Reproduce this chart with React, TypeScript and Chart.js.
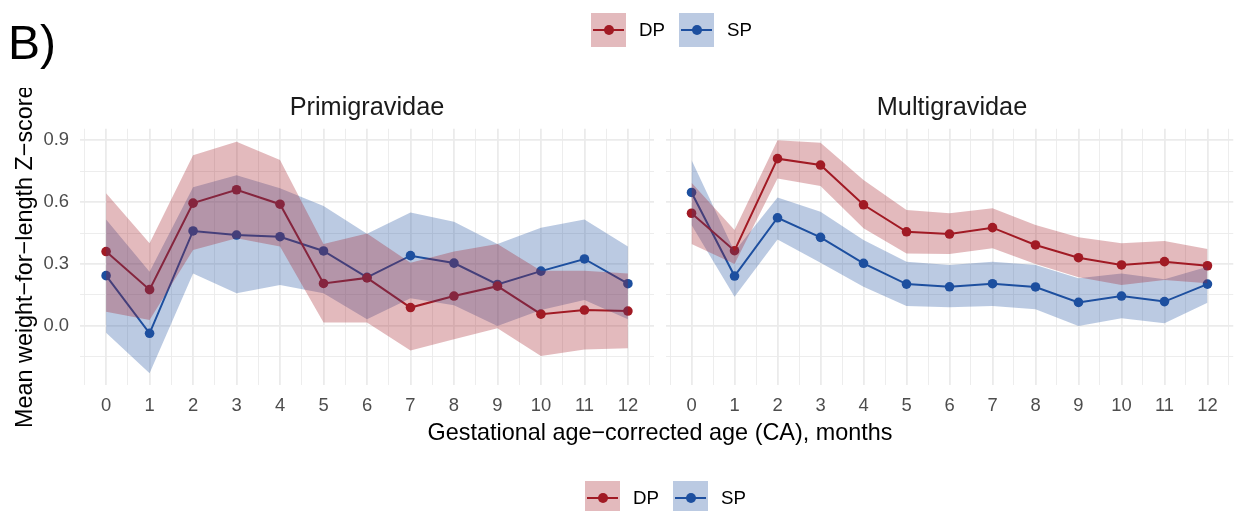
import React, { useEffect, useRef } from 'react';
import { Chart, registerables } from 'chart.js';
Chart.register(...registerables);

// ---- Data ----
const months = [0, 1, 2, 3, 4, 5, 6, 7, 8, 9, 10, 11, 12];

// Primigravidae
const primiDP = [0.36, 0.175, 0.595, 0.66, 0.59, 0.205, 0.232, 0.088, 0.144, 0.192, 0.056, 0.076, 0.071];
const primiDPLower = [0.068, 0.028, 0.367, 0.424, 0.384, 0.016, 0.016, -0.121, -0.066, -0.013, -0.147, -0.115, -0.11];
const primiDPUpper = [0.643, 0.4, 0.827, 0.893, 0.804, 0.397, 0.448, 0.306, 0.36, 0.397, 0.267, 0.267, 0.254];
const primiSP = [0.243, -0.037, 0.46, 0.44, 0.432, 0.363, 0.235, 0.34, 0.304, 0.2, 0.265, 0.324, 0.204];
const primiSPLower = [-0.034, -0.231, 0.254, 0.157, 0.198, 0.157, 0.031, 0.133, 0.099, -0.001, 0.076, 0.125, 0.031];
const primiSPUpper = [0.516, 0.262, 0.672, 0.731, 0.667, 0.581, 0.446, 0.549, 0.505, 0.397, 0.476, 0.516, 0.384];

// Multigravidae
const multiDP = [0.546, 0.364, 0.811, 0.78, 0.587, 0.456, 0.445, 0.476, 0.392, 0.33, 0.295, 0.311, 0.291];
const multiDPLower = [0.397, 0.3, 0.715, 0.678, 0.473, 0.351, 0.348, 0.376, 0.3, 0.235, 0.198, 0.222, 0.206];
const multiDPUpper = [0.694, 0.465, 0.901, 0.888, 0.707, 0.562, 0.546, 0.57, 0.489, 0.429, 0.4, 0.411, 0.372];
const multiSP = [0.647, 0.241, 0.524, 0.429, 0.303, 0.202, 0.189, 0.204, 0.188, 0.113, 0.144, 0.117, 0.202];
const multiSPLower = [0.489, 0.141, 0.419, 0.306, 0.189, 0.096, 0.089, 0.096, 0.08, -0.001, 0.036, 0.012, 0.112];
const multiSPUpper = [0.804, 0.36, 0.623, 0.553, 0.416, 0.311, 0.295, 0.311, 0.295, 0.23, 0.254, 0.225, 0.286];

// Axis ticks / grid
const xGridValues = [-0.5, 0, 0.5, 1, 1.5, 2, 2.5, 3, 3.5, 4, 4.5, 5, 5.5, 6, 6.5, 7, 7.5, 8, 8.5, 9, 9.5, 10, 10.5, 11, 11.5, 12, 12.5];
const yGridValues = [-0.15, 0, 0.15, 0.3, 0.45, 0.6, 0.75, 0.9];
const yTickLabels = ['0.0', '0.3', '0.6', '0.9'];
const xMin = -0.6, xMax = 12.6, yMin = -0.286, yMax = 0.956;

const seriesNames = ['DP', 'SP'];
const DP_COLOR = '#A11A24';
const SP_COLOR = '#1D4F9F';
const DP_FILL = 'rgba(161,26,36,0.3)';
const SP_FILL = 'rgba(29,79,159,0.3)';
const GRID = '#ebebeb';
const FONT = '"Liberation Sans", Arial, Helvetica, sans-serif';

const isInt = (v: number) => Math.abs(v - Math.round(v)) < 1e-6;
const isYMajor = (v: number) => Math.abs(v / 0.3 - Math.round(v / 0.3)) < 1e-6;

function pts(ys: number[]) {
  return months.map((m, i) => ({ x: m, y: ys[i] }));
}

function buildConfig(
  dp: number[], dpL: number[], dpU: number[],
  sp: number[], spL: number[], spU: number[],
  showY: boolean, padRight: number
): any {
  const band = (data: number[], fill: any, color: string) => ({
    type: 'line', data: pts(data), borderWidth: 0, pointRadius: 0, borderColor: 'transparent',
    backgroundColor: color, fill, order: 0, tension: 0,
  });
  const line = (data: number[], color: string, label: string) => ({
    type: 'line', label, data: pts(data), borderColor: color, backgroundColor: color,
    borderWidth: 2, pointRadius: 4.8, pointHoverRadius: 4.8, pointBorderWidth: 0,
    pointBackgroundColor: color, fill: false, order: 1, tension: 0,
  });
  return {
    type: 'line',
    data: {
      datasets: [
        band(dpU, '+1', DP_FILL),
        band(dpL, false, DP_FILL),
        band(spU, '+1', SP_FILL),
        band(spL, false, SP_FILL),
        line(dp, DP_COLOR, seriesNames[0]),
        line(sp, SP_COLOR, seriesNames[1]),
      ],
    },
    options: {
      responsive: false,
      animation: false,
      events: [],
      layout: { padding: { left: 0, right: padRight, top: 128.8, bottom: 511 - 384.6 - 40 } },
      plugins: { legend: { display: false }, tooltip: { enabled: false }, title: { display: false } },
      scales: {
        x: {
          type: 'linear', min: xMin, max: xMax,
          afterBuildTicks: (scale: any) => { scale.ticks = xGridValues.map((v) => ({ value: v })); },
          afterFit: (scale: any) => { scale.height = 40; },
          border: { display: false },
          grid: {
            color: GRID, drawTicks: false,
            lineWidth: (ctx: any) => (ctx.tick && isInt(ctx.tick.value) ? 1.8 : 0.9),
          },
          ticks: {
            autoSkip: false, maxRotation: 0, padding: 10, color: '#4d4d4d',
            font: { family: FONT, size: 18.4 },
            callback: (v: any) => (isInt(Number(v)) ? String(Math.round(Number(v))) : ''),
          },
        },
        y: {
          type: 'linear', min: yMin, max: yMax,
          afterBuildTicks: (scale: any) => { scale.ticks = yGridValues.map((v) => ({ value: v })); },
          afterFit: (scale: any) => { scale.width = showY ? 80 : 5; },
          border: { display: false },
          grid: {
            color: GRID, drawTicks: false,
            lineWidth: (ctx: any) => (ctx.tick && isYMajor(ctx.tick.value) ? 1.8 : 0.9),
          },
          ticks: {
            display: showY, autoSkip: false, padding: 11, color: '#4d4d4d',
            font: { family: FONT, size: 18.4 },
            callback: (v: any) => {
              const n = Number(v);
              if (!isYMajor(n)) return '';
              const idx = Math.round(n / 0.3);
              return yTickLabels[idx] ?? '';
            },
          },
        },
      },
    },
  };
}

function Panel(props: { left: number; width: number; cfg: () => any }) {
  const ref = useRef<HTMLCanvasElement>(null);
  useEffect(() => {
    const c = new Chart(ref.current as HTMLCanvasElement, props.cfg());
    return () => c.destroy();
  }, []);
  return (
    <canvas
      ref={ref}
      width={props.width}
      height={511}
      style={{ position: 'absolute', left: props.left, top: 0, width: props.width, height: 511 }}
    />
  );
}

function LegendKey(props: { x: number; y: number; fill: string; color: string }) {
  return (
    <div style={{ position: 'absolute', left: props.x, top: props.y, width: 35, height: 34, background: props.fill }}>
      <div style={{ position: 'absolute', left: 2, top: 16, width: 31, height: 2, background: props.color }} />
      <div style={{ position: 'absolute', left: 12.5, top: 12, width: 10, height: 10, borderRadius: 5, background: props.color }} />
    </div>
  );
}

function Legend(props: { x: number; y: number }) {
  const { x, y } = props;
  const txt = (left: number, s: string) => (
    <div style={{ position: 'absolute', left, top: y + 17 - 11, fontSize: 18.7, lineHeight: '22px', color: '#000' }}>{s}</div>
  );
  return (
    <>
      <LegendKey x={x} y={y} fill={DP_FILL} color={DP_COLOR} />
      {txt(x + 48, seriesNames[0])}
      <LegendKey x={x + 88} y={y} fill={SP_FILL} color={SP_COLOR} />
      {txt(x + 136, seriesNames[1])}
    </>
  );
}

export default function App() {
  return (
    <div style={{ position: 'absolute', left: 0, top: 0, width: 1239, height: 511, overflow: 'hidden', background: '#fff', fontFamily: FONT }}>
      <Panel left={0} width={660} cfg={() => buildConfig(primiDP, primiDPLower, primiDPUpper, primiSP, primiSPLower, primiSPUpper, true, 6)} />
      <Panel left={660} width={579} cfg={() => buildConfig(multiDP, multiDPLower, multiDPUpper, multiSP, multiSPLower, multiSPUpper, false, 0)} />

      <div style={{ position: 'absolute', left: 8, top: 19.4, fontSize: 48, lineHeight: '48px', color: '#000' }}>B)</div>

      <Legend x={591} y={13} />
      <Legend x={585} y={481} />

      <div style={{ position: 'absolute', left: 80, width: 574, top: 94.1, fontSize: 25.3, lineHeight: '25px', textAlign: 'center', color: '#1a1a1a' }}>Primigravidae</div>
      <div style={{ position: 'absolute', left: 665, width: 574, top: 94.1, fontSize: 25.3, lineHeight: '25px', textAlign: 'center', color: '#1a1a1a' }}>Multigravidae</div>

      <div style={{ position: 'absolute', left: 360, width: 600, top: 420, fontSize: 23.4, lineHeight: '24px', textAlign: 'center', color: '#000' }}>
        Gestational age−corrected age (CA), months
      </div>

      <div style={{ position: 'absolute', left: 0, top: 88, width: 60, height: 423, overflow: 'hidden' }}>
        <div style={{ position: 'absolute', left: 12, top: 428 - 88, transform: 'rotate(-90deg)', transformOrigin: 'left top', whiteSpace: 'nowrap', fontSize: 23.4, lineHeight: '24px', color: '#000' }}>
          Mean weight−for−length Z−score
        </div>
      </div>
    </div>
  );
}
